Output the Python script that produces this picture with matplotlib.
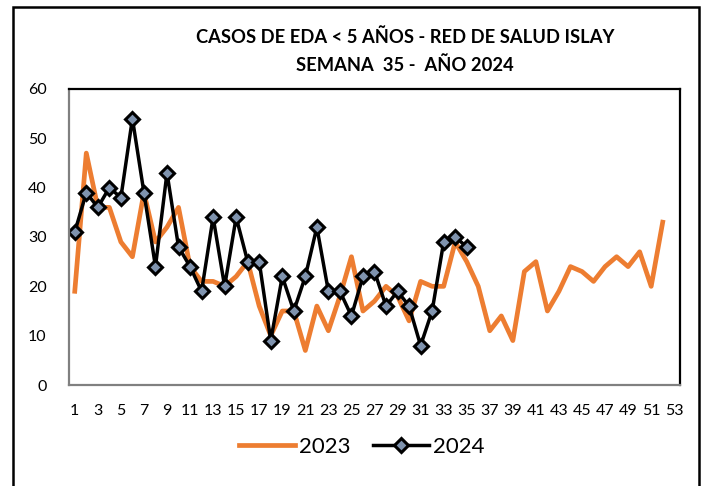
"""EDA < 5 years weekly cases, Red de Salud Islay, 2023 vs 2024."""

import matplotlib

matplotlib.use("Agg")
import matplotlib.pyplot as plt
from matplotlib.patches import Rectangle

plt.rcParams["font.family"] = ["Lato", "DejaVu Sans"]

WEEKS = list(range(1, 54))
CASES_2023 = [19, 47, 36, 36, 29, 26, 39, 29, 32, 36, 24, 21, 21, 20, 22, 25, 16, 10,
              15, 15, 7, 16, 11, 18, 26, 15, 17, 20, 18, 13, 21, 20, 20, 29, 25, 20,
              11, 14, 9, 23, 25, 15, 19, 24, 23, 21, 24, 26, 24, 27, 20, 33]
CASES_2024 = [31, 39, 36, 40, 38, 54, 39, 24, 43, 28, 24, 19, 34, 20, 34, 25, 25, 9,
              22, 15, 22, 32, 19, 19, 14, 22, 23, 16, 19, 16, 8, 15, 29, 30, 28]
X_TICKS = list(range(1, 54, 2))
Y_TICKS = [0, 10, 20, 30, 40, 50, 60]

ORANGE = "#ED7D31"
MARKER_FACE = "#7F93AE"


def main() -> None:
    fig = plt.figure(figsize=(7.07, 4.86), dpi=100)
    ax = fig.add_axes([0.0976, 0.2078, 0.8642, 0.6091])

    ax.plot(WEEKS[:len(CASES_2023)], CASES_2023, color=ORANGE, lw=3.4,
            solid_joinstyle="round", label="2023")
    ax.plot(WEEKS[:len(CASES_2024)], CASES_2024, color="black", lw=2.5,
            marker="D", markersize=7.5, markerfacecolor=MARKER_FACE,
            markeredgecolor="black", markeredgewidth=2.2, label="2024")

    ax.set_xlim(0.5, 53.5)
    ax.set_ylim(0, 60)
    ax.set_xticks(X_TICKS)
    ax.set_yticks(Y_TICKS)
    ax.tick_params(length=0, labelsize=11.5)
    ax.tick_params(axis="x", pad=14)
    ax.tick_params(axis="y", pad=16)
    for side in ("left", "bottom"):
        ax.spines[side].set_color("#808080")
        ax.spines[side].set_linewidth(1.6)
    for side in ("top", "right"):
        ax.spines[side].set_color("black")
        ax.spines[side].set_linewidth(1.6)

    fig.text(0.573, 0.924, "CASOS DE EDA < 5 AÑOS - RED DE SALUD ISLAY",
             ha="center", va="center", fontsize=13.2, fontweight="bold")
    fig.text(0.573, 0.866, "SEMANA  35 -  AÑO 2024",
             ha="center", va="center", fontsize=13.2, fontweight="bold")

    ax.legend(loc="center", bbox_to_anchor=(0.512, 0.081), bbox_transform=fig.transFigure,
              ncol=2, frameon=False, fontsize=16, handlelength=2.5,
              handletextpad=0.2, columnspacing=1.0)

    fig.patches.append(Rectangle((0.0184, -0.05), 0.970, 1.036, transform=fig.transFigure,
                                 fill=False, edgecolor="black", linewidth=1.8))

    fig.savefig("out.png", dpi=100)


if __name__ == "__main__":
    main()
